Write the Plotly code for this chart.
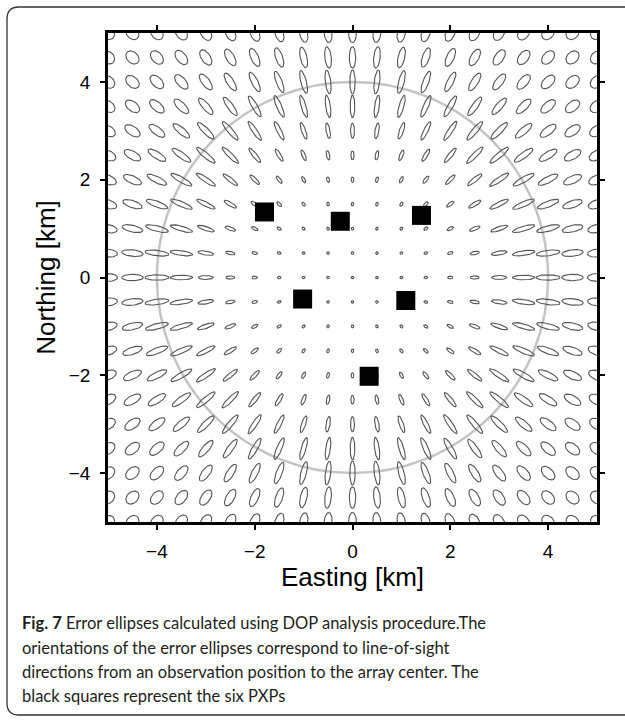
import numpy as np
import plotly.graph_objects as go

# ---- data ----
grid_x = [-5.0, -4.5, -4.0, -3.5, -3.0, -2.5, -2.0, -1.5, -1.0, -0.5, 0.0,
          0.5, 1.0, 1.5, 2.0, 2.5, 3.0, 3.5, 4.0, 4.5, 5.0]   # Easting of ellipse centres [km]
grid_y = [-5.0, -4.5, -4.0, -3.5, -3.0, -2.5, -2.0, -1.5, -1.0, -0.5, 0.0,
          0.5, 1.0, 1.5, 2.0, 2.5, 3.0, 3.5, 4.0, 4.5, 5.0]   # Northing of ellipse centres [km]

# ellipse size read versus distance from the array centre (full axis lengths, km)
profile_r = [0.0, 0.5, 1.0, 1.5, 2.0, 2.5, 3.0, 3.5, 4.0, 4.5, 5.0, 5.5, 6.0, 6.5, 7.1]
profile_major = [0.055, 0.055, 0.060, 0.075, 0.110, 0.180, 0.310, 0.460, 0.490, 0.440,
                 0.390, 0.350, 0.320, 0.300, 0.290]
profile_minor = [0.050, 0.050, 0.050, 0.050, 0.055, 0.065, 0.080, 0.095, 0.110, 0.130,
                 0.160, 0.190, 0.210, 0.230, 0.240]

pxp_x = [-1.80, -0.25, 1.41, -1.02, 1.09, 0.34]   # PXP positions [km]
pxp_y = [1.34, 1.15, 1.27, -0.44, -0.47, -2.02]

circle_radius = 4.0

x_ticks = [-4, -2, 0, 2, 4]
y_ticks = [-4, -2, 0, 2, 4]

caption_lines = [
    "<b>Fig. 7</b> Error ellipses calculated using DOP analysis procedure.The",
    "orientations of the error ellipses correspond to line-of-sight",
    "directions from an observation position to the array center. The",
    "black squares represent the six PXPs",
]

# ---- build ellipse outlines ----
t = np.linspace(0, 2 * np.pi, 41)
ex, ey = [], []
for cy in grid_y:
    for cx in grid_x:
        r = np.hypot(cx, cy)
        th = np.arctan2(cy, cx)
        a = np.interp(r, profile_r, profile_major) / 2
        b = np.interp(r, profile_r, profile_minor) / 2
        px = cx + a * np.cos(t) * np.cos(th) - b * np.sin(t) * np.sin(th)
        py = cy + a * np.cos(t) * np.sin(th) + b * np.sin(t) * np.cos(th)
        ex.extend(px.tolist() + [None])
        ey.extend(py.tolist() + [None])

fig = go.Figure()
fig.add_shape(type="circle", xref="x", yref="y",
              x0=-circle_radius, x1=circle_radius, y0=-circle_radius, y1=circle_radius,
              line=dict(color="#c4c4c4", width=2.5), layer="below")
fig.add_trace(go.Scatter(x=ex, y=ey, mode="lines",
                         line=dict(color="#555555", width=1.1), hoverinfo="skip"))
fig.add_trace(go.Scatter(x=pxp_x, y=pxp_y, mode="markers",
                         marker=dict(symbol="square", size=19, color="black",
                                     line=dict(width=0))))

axis_common = dict(range=[-5, 5], showgrid=False, zeroline=False, showline=True,
                   linecolor="black", linewidth=2.8, mirror="ticks", ticks="outside",
                   ticklen=5, tickwidth=1.5, tickcolor="black",
                   tickfont=dict(family="Liberation Sans, Arial", size=19, color="black"))

fig.update_xaxes(**axis_common, tickvals=x_ticks, ticklabelstandoff=5,
                 title=dict(text="Easting [km]", standoff=4,
                            font=dict(family="Liberation Sans, Arial", size=26, color="black")))
fig.update_yaxes(**axis_common, tickvals=y_ticks, ticklabelstandoff=6,
                 title=dict(text="Northing [km]", standoff=6,
                            font=dict(family="Liberation Sans, Arial", size=26, color="black")))

L, R, T, B = 108, 28, 33, 198
W, H = 625, 720
pw = W - L - R
ph = H - T - B


def px2paper_x(px):
    return (px - L) / pw


def px2paper_y(py):
    return (H - B - py) / ph


# rounded caption box
x0, x1 = px2paper_x(7), px2paper_x(645)
y0, y1 = px2paper_y(715), px2paper_y(7)
rx, ry = 12 / pw, 12 / ph
path = (f"M {x0+rx},{y1} L {x1},{y1} M {x0+rx},{y1} Q {x0},{y1} {x0},{y1-ry} "
        f"L {x0},{y0+ry} Q {x0},{y0} {x0+rx},{y0} L {x1},{y0}")
fig.add_shape(type="path", xref="paper", yref="paper", path=path,
              line=dict(color="#333333", width=1.3))

line_y = [623, 648, 672, 696]
for txt, yy in zip(caption_lines, line_y):
    fig.add_annotation(text=txt, xref="paper", yref="paper", x=px2paper_x(20),
                       y=px2paper_y(yy), xanchor="left", yanchor="middle",
                       showarrow=False, align="left",
                       font=dict(family="Lato", size=16.5, color="#231f20"))

fig.update_layout(width=W, height=H, margin=dict(l=L, r=R, t=T, b=B),
                  paper_bgcolor="white", plot_bgcolor="white", showlegend=False)

fig.write_html("out.html")
